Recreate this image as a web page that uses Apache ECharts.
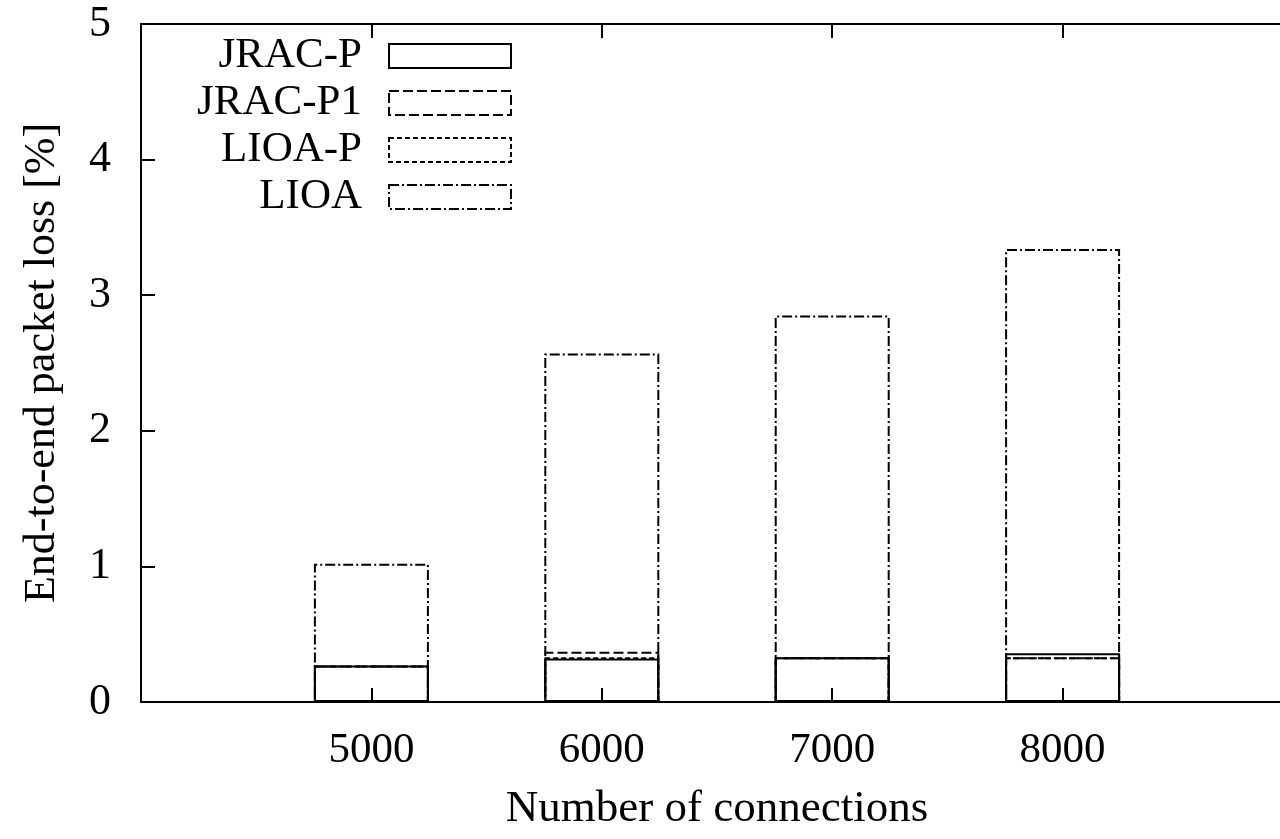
<!DOCTYPE html>
<html>
<head>
<meta charset="utf-8">
<script src="https://cdn.jsdelivr.net/npm/echarts@6/dist/echarts.min.js"></script>
<style>
  html, body { margin: 0; padding: 0; background: #fff; }
  #main { width: 1280px; height: 839px; }
</style>
</head>
<body>
<div id="main"></div>
<script>
// connection counts (x positions of the bars)
var connections = [5000, 6000, 7000, 8000];
var seriesNames = ['JRAC-P', 'JRAC-P1', 'LIOA-P', 'LIOA'];
// packet loss in %
var jracP = [0.27, 0.32, 0.33, 0.36];
var jracP1 = [0.27, 0.37, 0.33, 0.33];
var lioaP = [0.27, 0.33, 0.33, 0.33];
var lioa = [1.02, 2.57, 2.85, 3.34];
var yTicks = [0, 1, 2, 3, 4, 5];

var font = 'Liberation Serif';
// line styles: solid, dashed, short dashed, dash-dot
var dashes = ['solid', [10, 4], [5, 3], [10, 3, 2, 3]];
var values = [jracP, jracP1, lioaP, lioa];

var myChart = echarts.init(document.getElementById('main'));

var series = seriesNames.map(function (name, i) {
  return {
    name: name,
    type: 'bar',
    xAxisIndex: 0,
    barWidth: 115,
    barGap: '-100%',
    data: connections.map(function (c, j) { return [c, values[i][j]]; }),
    itemStyle: {
      color: 'rgba(0,0,0,0)',
      borderColor: '#000',
      borderWidth: 2,
      borderType: dashes[i]
    },
    emphasis: { disabled: true }
  };
});

myChart.setOption({
  animation: false,
  backgroundColor: '#fff',
  grid: { left: 141, top: 24, bottom: 137, right: -13, outerBoundsMode: 'none', containLabel: false },
  legend: {
    orient: 'vertical',
    align: 'right',
    right: 768,
    top: 34,
    padding: 0,
    itemWidth: 122,
    itemHeight: 24,
    itemGap: 3,
    icon: 'rect',
    data: seriesNames.map(function (n, i) {
      return { name: n, itemStyle: { borderType: dashes[i] } };
    }),
    itemStyle: { color: '#fff', borderColor: '#000', borderWidth: 2 },
    textStyle: { fontFamily: font, fontSize: 43, color: '#000', lineHeight: 44, padding: [0, 22, 0, 0] }
  },
  xAxis: [
    {
      type: 'value',
      min: 4000,
      max: 9000,
      interval: 1000,
      name: 'Number of connections',
      nameLocation: 'middle',
      nameGap: 85,
      nameTextStyle: { fontFamily: font, fontSize: 45, color: '#000' },
      axisLine: { show: true, onZero: false, lineStyle: { color: '#000', width: 2 } },
      axisTick: { show: true, inside: true, length: 14, lineStyle: { color: '#000', width: 2 } },
      axisLabel: {
        fontFamily: font, fontSize: 43, color: '#000', margin: 27,
        formatter: function (v) { return connections.indexOf(v) >= 0 ? String(v) : ''; }
      },
      splitLine: { show: false }
    },
    {
      type: 'value',
      position: 'top',
      min: 4000,
      max: 9000,
      interval: 1000,
      axisLine: { show: true, onZero: false, lineStyle: { color: '#000', width: 2 } },
      axisTick: { show: true, inside: true, length: 14, lineStyle: { color: '#000', width: 2 } },
      axisLabel: { show: false },
      splitLine: { show: false }
    }
  ],
  yAxis: {
    type: 'value',
    min: yTicks[0],
    max: yTicks[yTicks.length - 1],
    interval: 1,
    name: 'End-to-end packet loss [%]',
    nameLocation: 'middle',
    nameGap: 77,
    nameTextStyle: { fontFamily: font, fontSize: 44, color: '#000' },
    axisLine: { show: true, lineStyle: { color: '#000', width: 2 } },
    axisTick: { show: true, inside: true, length: 14, lineStyle: { color: '#000', width: 2 } },
    axisLabel: { fontFamily: font, fontSize: 44, color: '#000', margin: 30 },
    splitLine: { show: false }
  },
  series: series
});
</script>
</body>
</html>
